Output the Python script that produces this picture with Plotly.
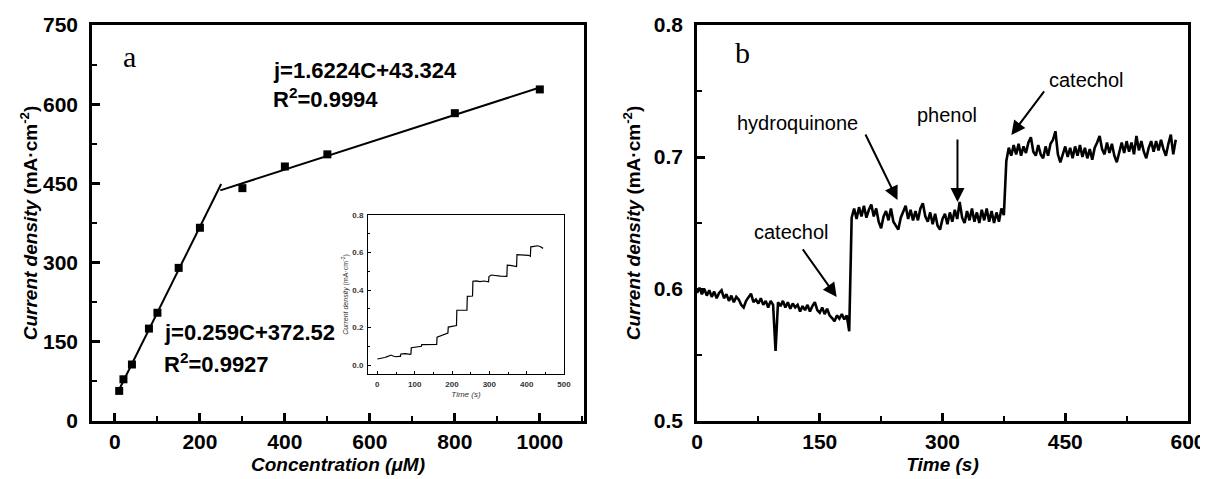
import plotly.graph_objects as go

# ---------------- Panel a : calibration ----------------
conc_uM = [10, 20, 40, 80, 100, 150, 200, 300, 400, 500, 800, 1000]
current_a = [57, 79, 107, 175, 205, 290, 366, 441, 482, 505, 583, 628]
fit_low_c = [10, 250]
fit_low_slope, fit_low_icpt = 1.6224, 43.324
fit_high_c = [248, 1000]
fit_high_slope, fit_high_icpt = 0.259, 372.52

# ---------------- Inset : amperometric staircase ----------------
inset_t = [0, 10, 20, 30, 36, 42, 50, 58, 62, 63, 75, 88, 90, 91, 100, 110, 118, 119,
           130, 140, 150, 159, 160, 170, 180, 189, 190, 200, 212, 213, 225, 240, 241,
           250, 255, 256, 265, 275, 285, 298, 299, 305, 315, 330, 347, 348, 360, 373,
           374, 390, 405, 410, 411, 420, 428, 436, 444]
inset_j = [0.032, 0.035, 0.040, 0.047, 0.053, 0.048, 0.044, 0.046, 0.046, 0.059, 0.061,
           0.057, 0.058, 0.092, 0.095, 0.099, 0.100, 0.109, 0.110, 0.108, 0.109, 0.110,
           0.148, 0.157, 0.165, 0.170, 0.202, 0.206, 0.210, 0.292, 0.293, 0.292, 0.366,
           0.368, 0.368, 0.447, 0.449, 0.445, 0.448, 0.444, 0.472, 0.480, 0.476, 0.474,
           0.473, 0.533, 0.530, 0.525, 0.588, 0.587, 0.585, 0.580, 0.630, 0.633, 0.636,
           0.632, 0.622]

# ---------------- Panel b : interference test ----------------
time_b = list(range(0, 588, 3))
current_b = [
    # 0 - 186 s
    0.597, 0.601, 0.596, 0.600, 0.595, 0.599, 0.594, 0.598, 0.593, 0.597, 0.599,
    0.593, 0.596, 0.591, 0.595, 0.590, 0.594, 0.592, 0.588, 0.586, 0.591,
    0.594, 0.5965, 0.590, 0.592, 0.589, 0.593, 0.588, 0.591, 0.586, 0.591,
    0.588, 0.553, 0.590, 0.587, 0.591, 0.586, 0.590, 0.585, 0.589, 0.586,
    0.588, 0.583, 0.587, 0.584, 0.588, 0.583, 0.587, 0.590, 0.584, 0.582,
    0.586, 0.581, 0.585, 0.580, 0.578, 0.5755, 0.580, 0.5775, 0.581, 0.577,
    0.580, 0.568,
    # 189 - 375 s
    0.654, 0.661, 0.653, 0.662, 0.655, 0.663, 0.654, 0.660, 0.664, 0.655,
    0.661, 0.651, 0.646, 0.655, 0.659, 0.652, 0.661, 0.651, 0.648, 0.645,
    0.654, 0.659, 0.663, 0.653, 0.660, 0.652, 0.659, 0.652, 0.661, 0.665,
    0.655, 0.651, 0.658, 0.649, 0.657, 0.648, 0.645, 0.653, 0.657, 0.649,
    0.658, 0.651, 0.660, 0.653, 0.666, 0.654, 0.650, 0.659, 0.652, 0.661,
    0.651, 0.658, 0.650, 0.660, 0.652, 0.661, 0.651, 0.659, 0.650, 0.658,
    0.651, 0.661, 0.656,
    # 378 - 585 s
    0.697, 0.707, 0.701, 0.709, 0.702, 0.710, 0.701, 0.708, 0.703, 0.711,
    0.715, 0.704, 0.701, 0.709, 0.702, 0.699, 0.708, 0.701, 0.710, 0.713,
    0.7195, 0.702, 0.696, 0.702, 0.708, 0.700, 0.707, 0.699, 0.708, 0.701,
    0.709, 0.700, 0.707, 0.699, 0.706, 0.698, 0.707, 0.711, 0.716, 0.706,
    0.702, 0.711, 0.703, 0.710, 0.701, 0.696, 0.704, 0.711, 0.703, 0.712,
    0.704, 0.711, 0.702, 0.716, 0.705, 0.712, 0.704, 0.699, 0.707, 0.712,
    0.704, 0.712, 0.705, 0.713, 0.706, 0.701, 0.710, 0.717, 0.702, 0.713,
]

# annotations for panel b: (label, label_t, label_j, tail_t, tail_j, head_t, head_j)
arrow_notes = [
    ("catechol", 116, 0.6432, 128, 0.6311, 170.7, 0.5939),
    ("hydroquinone", 123, 0.7258, 205, 0.7182, 245, 0.6674),
    ("phenol", 306, 0.7318, 318.3, 0.7144, 318.3, 0.6659),
    ("catechol", 475.6, 0.7583, 425.6, 0.7508, 384.1, 0.7167),
]

SANS = "Liberation Sans, Arial, sans-serif"
SERIF = "Liberation Serif, Times New Roman, serif"
BLACK = "black"

# the page body adds an 8 px margin; figure is sized so it ends at the window edge
W, H, OFF = 1200, 471, 8


def fx(px):
    return (px - OFF) / W


def fy(py):
    return (H - (py - OFF)) / H


fig = go.Figure()

fit_low_j = [fit_low_slope * c + fit_low_icpt for c in fit_low_c]
fit_high_j = [fit_high_slope * c + fit_high_icpt for c in fit_high_c]

fig.add_trace(go.Scatter(x=fit_low_c, y=fit_low_j, mode="lines",
                         line=dict(color=BLACK, width=2), xaxis="x", yaxis="y",
                         showlegend=False))
fig.add_trace(go.Scatter(x=fit_high_c, y=fit_high_j, mode="lines",
                         line=dict(color=BLACK, width=2), xaxis="x", yaxis="y",
                         showlegend=False))
fig.add_trace(go.Scatter(x=conc_uM, y=current_a, mode="markers",
                         marker=dict(symbol="square", size=8, color=BLACK),
                         xaxis="x", yaxis="y", showlegend=False))

fig.add_trace(go.Scatter(x=time_b, y=current_b, mode="lines",
                         line=dict(color=BLACK, width=2.6), xaxis="x2", yaxis="y2",
                         showlegend=False))

fig.add_trace(go.Scatter(x=inset_t, y=inset_j, mode="lines",
                         line=dict(color=BLACK, width=1.2), xaxis="x3", yaxis="y3",
                         showlegend=False))


def main_axis(domain, rng, dtick, minor_dtick, title, anchor, standoff, lblpad):
    return dict(
        domain=domain, range=rng, anchor=anchor, dtick=dtick, tick0=0,
        automargin=False,
        showgrid=False, zeroline=False,
        showline=True, linecolor=BLACK, linewidth=2.5, mirror=True,
        ticks="inside", ticklen=8, tickwidth=2.5, tickcolor=BLACK,
        minor=dict(ticks="inside", ticklen=5, tickwidth=2, tickcolor=BLACK,
                   dtick=minor_dtick, showgrid=False),
        tickfont=dict(family=SANS, size=21, color=BLACK, weight="bold"),
        ticklabelstandoff=lblpad,
        title=dict(text=title, standoff=standoff,
                   font=dict(family=SANS, size=19, color=BLACK, weight="bold")),
    )


ytitle = "<i>Current density</i> (mA·cm<sup>-2</sup>)"

xa_dom = [fx(92), fx(584)]
xb_dom = [fx(697), fx(1188)]
y_dom = [fy(421), fy(25)]

fig.update_layout(
    template="none",
    width=W, height=H, autosize=False,
    margin=dict(l=0, r=0, t=0, b=0, pad=0),
    paper_bgcolor="white", plot_bgcolor="white",
    xaxis=main_axis(xa_dom, [-54, 1104], 200, 100,
                    "<i>Concentration (μM)</i>", "y", 6, 0),
    yaxis=main_axis(y_dom, [0, 750], 150, 75, ytitle, "x", 1, 7),
    xaxis2=main_axis(xb_dom, [0, 600], 150, 75, "<i>Time (s)</i>", "y2", 6, 0),
    yaxis2=main_axis(y_dom, [0.5, 0.8], 0.1, 0.05, ytitle, "x2", 9, 7),
    xaxis3=dict(
        domain=[fx(368), fx(564)], range=[-25, 500], anchor="y3",
        automargin=False,
        dtick=100, tick0=0, showgrid=False, zeroline=False,
        showline=True, linecolor=BLACK, linewidth=1, mirror=True,
        ticks="inside", ticklen=3, tickwidth=1, tickcolor=BLACK,
        minor=dict(ticks="inside", ticklen=2, tickwidth=1, tickcolor=BLACK, dtick=50),
        tickfont=dict(family=SANS, size=8, color="#333", weight="bold"),
        ticklabelstandoff=2,
        title=dict(text="<i>Time (s)</i>", standoff=3,
                   font=dict(family=SANS, size=8, color="#333")),
    ),
    yaxis3=dict(
        domain=[fy(374), fy(215)], range=[-0.048, 0.8],
        anchor="x3", dtick=0.2, tick0=0, tickformat=".1f",
        automargin=False,
        showgrid=False, zeroline=False,
        showline=True, linecolor=BLACK, linewidth=1, mirror=True,
        ticks="inside", ticklen=3, tickwidth=1, tickcolor=BLACK,
        minor=dict(ticks="inside", ticklen=2, tickwidth=1, tickcolor=BLACK, dtick=0.1),
        tickfont=dict(family=SANS, size=8, color="#333", weight="bold"),
        ticklabelstandoff=2,
        title=dict(text=ytitle, standoff=2,
                   font=dict(family=SANS, size=7, color="#333")),
    ),
)

annotations = []
# panel letters
annotations.append(dict(text="a", x=35, y=690, xref="x", yref="y", showarrow=False,
                        font=dict(family=SERIF, size=30, color=BLACK)))
annotations.append(dict(text="b", x=55, y=0.7795, xref="x2", yref="y2", showarrow=False,
                        font=dict(family=SERIF, size=30, color=BLACK)))
# equations
eq_font = dict(family=SANS, size=22, color=BLACK, weight="bold")
annotations.append(dict(text="j=1.6224C+43.324", x=367, y=664, xref="x", yref="y",
                        xanchor="left", showarrow=False, font=eq_font))
annotations.append(dict(text="R<sup>2</sup>=0.9994", x=367, y=612, xref="x", yref="y",
                        xanchor="left", showarrow=False, font=eq_font))
annotations.append(dict(text="j=0.259C+372.52", x=111, y=167, xref="x", yref="y",
                        xanchor="left", showarrow=False, font=eq_font))
annotations.append(dict(text="R<sup>2</sup>=0.9927", x=111, y=110, xref="x", yref="y",
                        xanchor="left", showarrow=False, font=eq_font))

note_font = dict(family=SANS, size=20, color=BLACK)
for label, lt, lj, tt, tj, ht, hj in arrow_notes:
    annotations.append(dict(text=label, x=lt, y=lj, xref="x2", yref="y2",
                            showarrow=False, font=note_font))
    annotations.append(dict(text="", x=ht, y=hj, ax=tt, ay=tj, xref="x2", yref="y2",
                            axref="x2", ayref="y2", showarrow=True, arrowhead=2,
                            arrowsize=1.4, arrowwidth=2, arrowcolor=BLACK, standoff=0))

fig.update_layout(annotations=annotations)

fig.write_html("out.html")
